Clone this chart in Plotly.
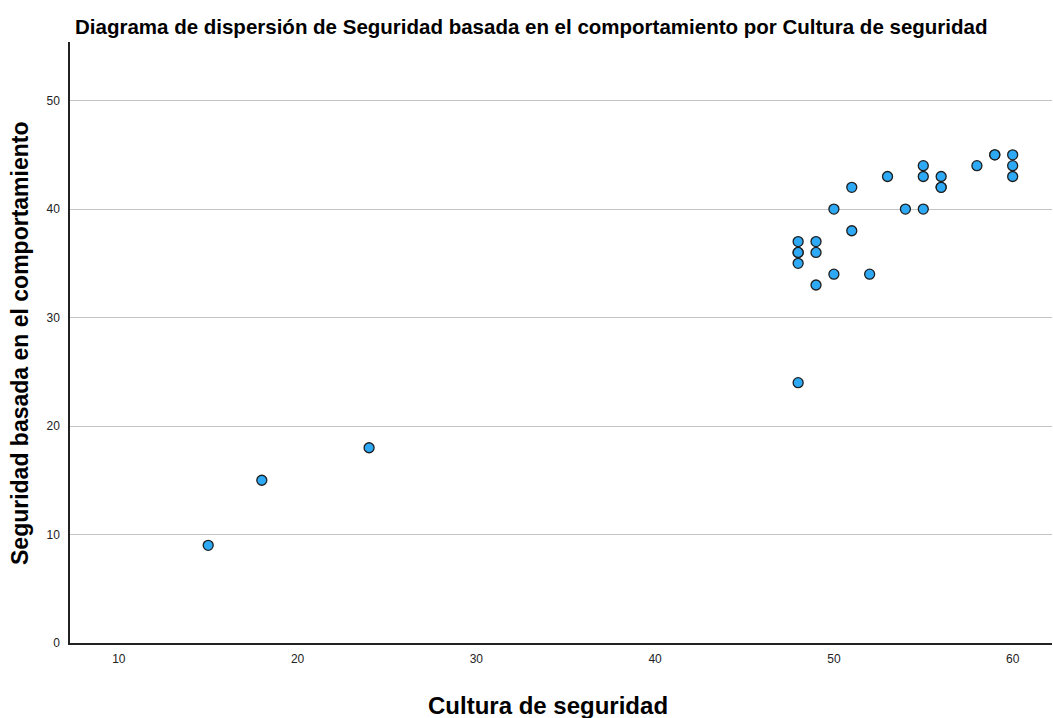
import plotly.graph_objects as go

cultura = [15, 18, 24, 48, 48, 48, 48, 48, 49, 49, 49, 50, 50, 51, 51, 52, 53, 54,
           55, 55, 55, 56, 56, 56, 58, 59, 59, 60, 60, 60]
seguridad = [9, 15, 18, 24, 35, 36, 36, 37, 33, 36, 37, 34, 40, 38, 42, 34, 43, 40,
             40, 43, 44, 42, 42, 43, 44, 45, 45, 43, 44, 45]

x_ticks = [10, 20, 30, 40, 50, 60]
y_ticks = [0, 10, 20, 30, 40, 50]

L, R, T, B = 70, 1, 42, 75
W, H = 1053, 718
PW, PH = W - L - R, H - T - B

fig = go.Figure()
fig.add_trace(go.Scatter(
    x=cultura, y=seguridad, mode="markers",
    marker=dict(size=10, color="#2ea9f5", line=dict(color="#1e1e1e", width=1.3)),
    showlegend=False, hoverinfo="x+y",
))

fig.update_layout(
    width=W, height=H,
    paper_bgcolor="white", plot_bgcolor="white",
    margin=dict(l=L, r=R, t=T, b=B, autoexpand=False),
    font=dict(family="Liberation Sans, Arial, sans-serif", color="#111"),
    title=dict(
        text="<b>Diagrama de dispersión de Seguridad basada en el comportamiento por Cultura de seguridad</b>",
        x=75 / W, xanchor="left", y=1 - 27 / H, yanchor="middle",
        font=dict(size=20.5, color="black"),
    ),
    xaxis=dict(
        range=[7.27, 62.2], tickvals=x_ticks, showgrid=False, zeroline=False,
        showline=True, linecolor="#222", linewidth=1.5, ticks="",
        tickfont=dict(size=12, color="#222"), automargin=False, ticklabelstandoff=4,
    ),
    yaxis=dict(
        range=[0, 55.4], tickvals=y_ticks, showgrid=True, gridcolor="#c4c4c4", gridwidth=1,
        zeroline=False, showline=True, linecolor="#222", linewidth=1.5, ticks="",
        tickfont=dict(size=12, color="#222"), automargin=False, ticklabelstandoff=6,
    ),
    annotations=[
        dict(text="<b>Cultura de seguridad</b>", xref="paper", yref="paper",
             x=(548 - L) / PW, y=-(705 - (T + PH)) / PH, xanchor="center", yanchor="middle",
             showarrow=False, font=dict(size=24, color="black")),
        dict(text="<b>Seguridad basada en el comportamiento</b>", xref="paper", yref="paper",
             x=(20 - L) / PW, y=(H - B - 343) / PH, xanchor="center", yanchor="middle",
             textangle=-90, showarrow=False, font=dict(size=23, color="black")),
    ],
)

fig.write_html("out.html", config={"displayModeBar": False},
               post_script="document.body.style.margin='0';document.body.style.overflow='hidden';")
